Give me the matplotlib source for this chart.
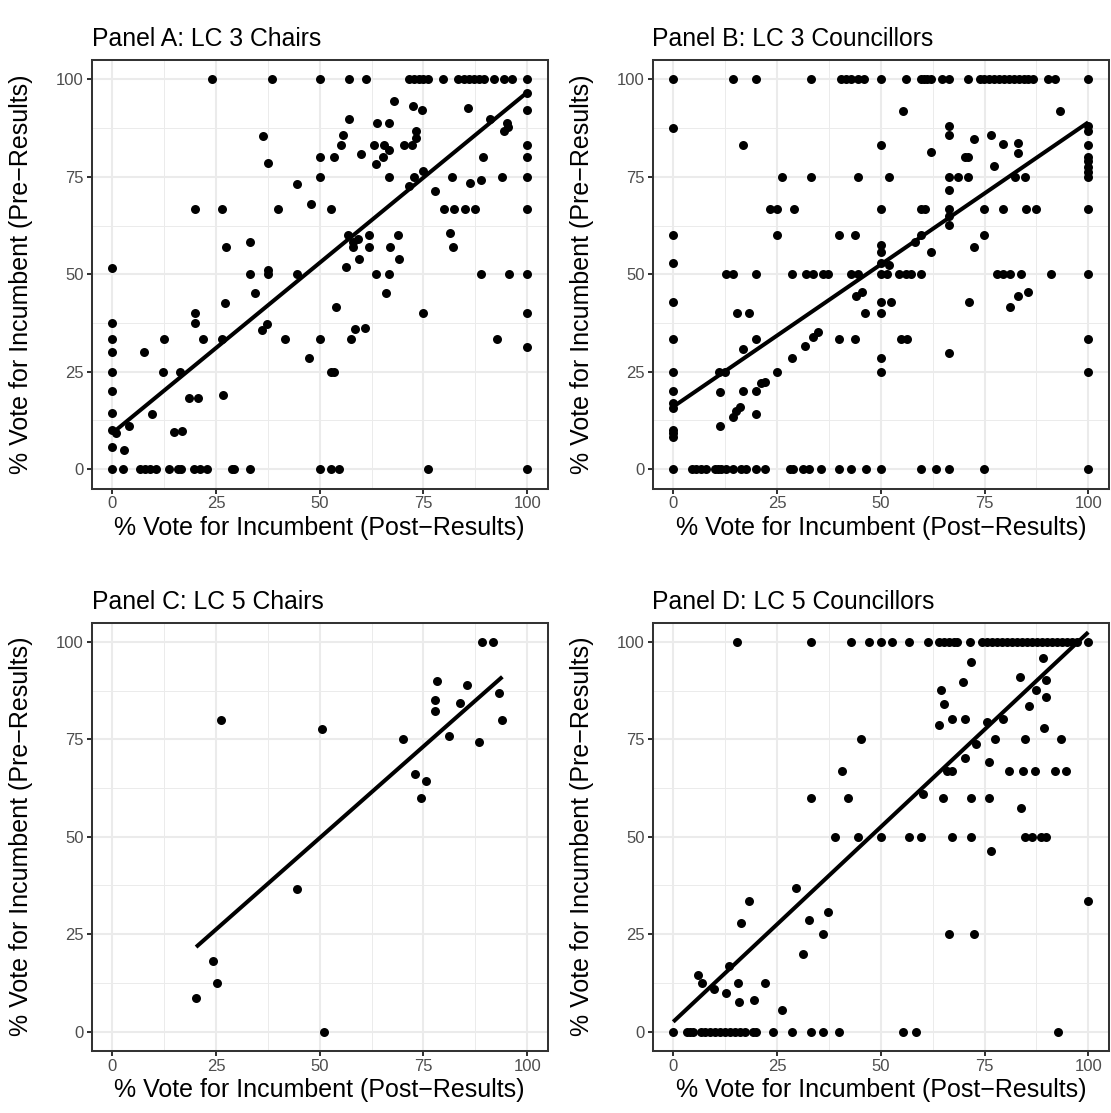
import numpy as np
import matplotlib
matplotlib.use("Agg")
import matplotlib.pyplot as plt
from matplotlib.ticker import MultipleLocator

plt.rcParams['font.family'] = ['Liberation Sans', 'DejaVu Sans']

titles = ["Panel A: LC 3 Chairs", "Panel B: LC 3 Councillors",
          "Panel C: LC 5 Chairs", "Panel D: LC 5 Councillors"]
x_label = "% Vote for Incumbent (Post\u2212Results)"
y_label = "% Vote for Incumbent (Pre\u2212Results)"

# --- Panel A: LC 3 chairs ---
a_top = [24, 38.5, 50, 57.1, 61.1, 71.4, 72.6, 73.8, 75, 76.2, 79.8, 83.4, 84.7,
         85.9, 87.1, 88.3, 89.5, 91.9, 94.3, 96.3, 100]
a_zero = [0, 2.5, 6.7, 8, 9.2, 10.5, 13.6, 15.8, 16.6, 19.8, 21.2, 22.9, 28.8, 29.4,
          33.3, 50, 52.7, 54.7, 76.2, 100]
a_pts = [(100, 96.6), (68, 94.4), (72.5, 93.3), (74.6, 92.2), (85.7, 92.7), (100, 92.2),
         (57.1, 89.9), (91.1, 89.9), (63.9, 88.8), (66.7, 88.8), (95.1, 88.9), (95.3, 87.8),
         (94.5, 86.7), (55.6, 85.7), (36.4, 85.6), (73.3, 86.7), (73.3, 85), (55, 83.3),
         (63.1, 83.3), (65.5, 83.3), (70.4, 83.3), (72.3, 83.3), (100, 83.3), (66.7, 81.8),
         (59.9, 80.8), (50, 80), (53.5, 80), (65.2, 80), (89.3, 80), (100, 80), (37.5, 78.5),
         (63.6, 78.4), (75, 76.5), (50, 75), (66.7, 75), (72.8, 75), (81.9, 75), (94, 75),
         (100, 75), (88.9, 74.3), (86.1, 73.5), (44.5, 73.2), (71.4, 72.6), (77.7, 71.4),
         (48, 68), (20, 66.7), (26.5, 66.7), (40, 66.7), (52.7, 66.7), (80, 66.7), (82.4, 66.7),
         (85, 66.7), (87.5, 66.7), (100, 66.7), (81.3, 60.7), (82, 57), (56.8, 60), (58, 58.3),
         (58, 57), (59.2, 59), (61.8, 60), (61.8, 57), (68.8, 60), (67, 57), (33.3, 58.2),
         (27.5, 57), (59.4, 53.8), (69.2, 53.8), (56.4, 51.9), (0, 51.5), (37.5, 51),
         (33.3, 50), (37.5, 50), (44.5, 50), (63.6, 50), (66.7, 50), (88.9, 50), (95.7, 50),
         (100, 50), (34.4, 45.3), (65.9, 45.3), (27.2, 42.7), (54, 41.5), (20, 40), (75, 40),
         (100, 40), (20, 37.5), (0, 37.5), (37.3, 37.2), (36, 35.8), (58.6, 35.9), (61, 36.2),
         (0, 33.3), (12.5, 33.3), (21.8, 33.3), (26.4, 33.3), (41.7, 33.3), (50, 33.3),
         (57.6, 33.3), (92.8, 33.3), (100, 31.2), (0, 30), (7.7, 30), (47.5, 28.6), (0, 25),
         (12.3, 25), (16.4, 25), (52.7, 25), (53.5, 25), (0, 20), (26.7, 19.1), (18.4, 18.2),
         (20.6, 18.2), (0, 14.3), (9.6, 14.1), (0, 10), (1, 9.2), (4.1, 11), (14.9, 9.6),
         (16.8, 9.8), (0, 5.6), (2.9, 4.8)]
a_fit = (9.2, 0.875)

# --- Panel B: LC 3 councillors ---
b_top = [0, 14.4, 20, 33.3, 40.4, 41.6, 42.8, 44.4, 46, 50, 56.1, 59.6, 60.4, 61.2, 62,
         64.8, 66.4, 71, 74, 74.8, 76, 77.2, 78.4, 79.6, 80.8, 82, 83.2, 84.4, 85.6, 86.8,
         90.4, 92, 100]
b_zero = [0, 4.6, 5.6, 6.8, 7.8, 10, 10.8, 11.6, 12.8, 14.4, 16.4, 17.6, 20, 22.2, 28.2,
          28.8, 31.2, 32.8, 35.6, 40, 42.8, 46.4, 50, 59.8, 63.4, 66.4, 74.8, 100]
b_fifty = [12.6, 14.4, 20, 28.5, 32, 33.6, 36, 37.2, 42.8, 44.4, 50, 51.5, 54.4, 56, 57.2,
           59.8, 77.9, 79.5, 81.2, 83.9, 91, 100]
b_pts = [(0, 87.5), (16.7, 83.3), (55.3, 91.8), (93.3, 91.8), (100, 88), (100, 86.7),
         (66.4, 88), (66.4, 85.8), (76.6, 85.8), (72.4, 84.7), (79.5, 83.5), (83, 83.7),
         (83, 81), (50, 83.3), (100, 83.3), (62.2, 81.4), (70.4, 80), (71.1, 80), (100, 80.2),
         (100, 79.2), (100, 77.6), (100, 76.3), (100, 75), (77.4, 77.9), (26.3, 75),
         (33.3, 75), (44.4, 75), (52.1, 75), (66.4, 75), (68.6, 75), (71, 75), (82.3, 75),
         (84.7, 75), (66.4, 71.5), (23.4, 66.7), (25, 66.7), (29.1, 66.7), (50, 66.7),
         (59.8, 66.7), (60.6, 66.7), (66.4, 66.7), (74.8, 66.7), (79.5, 66.7), (85.1, 66.7),
         (87.3, 66.7), (100, 66.7), (66.4, 64.9), (66.4, 62.7), (0, 60), (25, 60), (39.9, 60),
         (43.9, 60), (59.8, 60.2), (74.8, 60.2), (58.2, 58.4), (72.4, 57.1), (50, 57.6),
         (50, 55.6), (62.2, 55.6), (0, 53), (50, 52.9), (52, 52.4), (44, 44.5), (45.4, 45.4),
         (83, 44.5), (85.4, 45.4), (81.2, 41.6), (0, 42.9), (50, 43), (52.4, 42.8),
         (71.2, 42.8), (15.4, 40), (18.2, 40), (46.1, 40), (50, 40), (0, 33.3), (20, 33.3),
         (40, 33.3), (43.7, 33.3), (54.8, 33.3), (56.4, 33.3), (100, 33.3), (16.7, 30.8),
         (34.9, 35.1), (33.6, 33.9), (31.8, 31.6), (66.4, 29.9), (28.5, 28.5), (50, 28.5),
         (0, 25), (50, 25), (100, 25), (11.1, 25), (12.5, 25), (25, 25), (22.2, 22.4),
         (21.2, 22), (0, 20), (11.2, 19.8), (16.9, 20), (20, 20), (16, 15.9), (15.2, 15),
         (14.4, 13.4), (20, 14.1), (0, 16.9), (0, 15.6), (11.2, 11), (0, 10), (0, 9.2),
         (0, 8.3)]
b_fit = (16.0, 0.73)

# --- Panel C: LC 5 chairs ---
c_pts = [(20.2, 8.7), (24.3, 18.2), (25.3, 12.4), (26.3, 80), (44.6, 36.7), (50.6, 77.6),
         (51, 0), (70, 75), (73, 66), (74.5, 60), (75.6, 64.2), (77.7, 82.4), (77.7, 85.2),
         (78.3, 90), (81.2, 75.8), (83.7, 84.4), (85.4, 88.9), (88.3, 74.3), (89.2, 100),
         (91.8, 100), (93.2, 86.9), (94, 80)]
c_fit = (2.7, 0.94)

# --- Panel D: LC 5 councillors ---
d_top = [15.4, 33.3, 42.8, 47.2, 50, 52.8, 56.9, 61.4, 64, 65.2, 66.4, 67.6, 68.4, 71.6,
         74.4, 75.6, 76.8, 78, 79.2, 80.4, 81.6, 82.8, 84, 85.2, 86.4, 87.6, 88.8, 90, 91.2,
         92.4, 93.6, 94.8, 96, 97.2, 100]
d_zero = [0, 3.2, 4, 4.8, 6.8, 7.6, 8.8, 10, 11.2, 12.4, 13.6, 14.8, 16, 17.2, 19.2, 20,
          24.1, 28.6, 33.3, 36, 40, 55.3, 58.5, 92.6]
d_pts = [(71.7, 94.9), (89.1, 96), (83.5, 91), (89.9, 90.2), (69.8, 89.8), (64.5, 87.7),
         (87.4, 87.7), (89.7, 85.9), (65.2, 84.2), (85.8, 83.5), (67.1, 80.2), (70.2, 80.2),
         (79.5, 80.2), (64, 78.7), (75.5, 79.4), (89.4, 78), (45.3, 75), (77.5, 75.2),
         (84.7, 75.2), (93.5, 75.2), (72.9, 73.9), (70.2, 70.2), (76.2, 69.3), (40.6, 66.8),
         (66, 66.8), (67.1, 66.8), (80.9, 66.8), (84.2, 66.8), (87.1, 66.8), (92.1, 66.8),
         (94.6, 66.8), (60.2, 61.1), (33.3, 60), (42.2, 60), (64.9, 60), (71.7, 60),
         (76.2, 60), (83.8, 57.5), (39, 50), (44.4, 50), (50, 50), (56.9, 50), (59.7, 50),
         (67.1, 50), (71.8, 50), (84.7, 50), (86.5, 50), (88.6, 50), (89.7, 50), (76.6, 46.3),
         (29.6, 36.9), (18.2, 33.5), (100, 33.4), (16.4, 27.8), (32.7, 28.7), (37.4, 30.8),
         (36.1, 25), (66.4, 25), (72.4, 25), (31.2, 20), (13.4, 16.8), (5.9, 14.4), (7, 12.4),
         (9.8, 11), (12.8, 9.9), (15.5, 12.4), (22.2, 12.4), (15.8, 7.6), (19.4, 8.2),
         (26.1, 5.5)]
d_fit = (2.5, 1.0)


def collect(pts, rows=()):
    xs = [p[0] for p in pts]
    ys = [p[1] for p in pts]
    for level, vals in rows:
        xs += list(vals)
        ys += [level] * len(vals)
    return np.array(xs), np.array(ys)


panels = [
    collect(a_pts, [(100, a_top), (0, a_zero)]) + (a_fit,),
    collect(b_pts, [(100, b_top), (0, b_zero), (50, b_fifty)]) + (b_fit,),
    collect(c_pts) + (c_fit,),
    collect(d_pts, [(100, d_top), (0, d_zero)]) + (d_fit,),
]

W, H = 1111, 1113
fig = plt.figure(figsize=(W / 100, H / 100), dpi=100)
# panel boxes in pixels: left, top
boxes = [(91.5, 60), (652.5, 60), (91.5, 622.5), (652.5, 622.5)]
pw, ph = 456.5, 428.5

grid_col = '#EBEBEB'
dark = '#333333'

for (left, top), title, (x, y, fit) in zip(boxes, titles, panels):
    ax = fig.add_axes([left / W, (H - top - ph) / H, pw / W, ph / H])
    ax.set_xlim(-5, 105)
    ax.set_ylim(-5, 105)
    for axis in (ax.xaxis, ax.yaxis):
        axis.set_major_locator(MultipleLocator(25))
        axis.set_minor_locator(MultipleLocator(12.5))
    ax.grid(which='major', color=grid_col, lw=1.45)
    ax.grid(which='minor', color=grid_col, lw=0.72)
    ax.set_axisbelow(True)

    ax.scatter(x, y, s=42, c='black', linewidths=0, zorder=3)
    xs = np.array([x.min(), x.max()])
    ax.plot(xs, fit[0] + fit[1] * xs, color='black', lw=2.9, zorder=4,
            solid_capstyle='butt')

    for sp in ax.spines.values():
        sp.set_color(dark)
        sp.set_linewidth(1.45)
        sp.set_zorder(5)
    ax.tick_params(which='major', length=3.7, width=1.45, color=dark,
                   labelcolor='#4D4D4D', labelsize=12, pad=2)
    ax.tick_params(which='minor', length=0)
    ax.set_title(title, loc='left', fontsize=17.8, pad=10)
    ax.set_xlabel(x_label, fontsize=18, labelpad=3)
    ax.set_ylabel(y_label, fontsize=18, va='center')
    # y title sits against the left edge of each sub-plot
    ax.yaxis.set_label_coords(-70 / pw, 0.5)

fig.savefig('out.png', dpi=100, facecolor='white')
